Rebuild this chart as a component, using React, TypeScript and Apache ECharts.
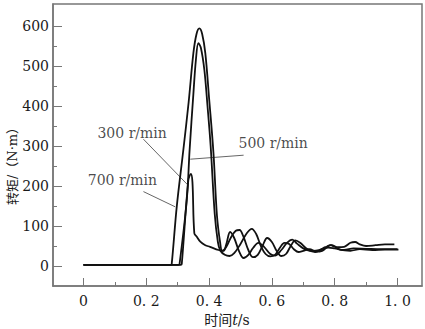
import React, { useEffect, useRef } from 'react';
import * as echarts from 'echarts';

const xMajorTicks = [0, 0.2, 0.4, 0.6, 0.8, 1.0];
const xMinorTicks = [0.1, 0.3, 0.5, 0.7, 0.9];
const yMajorTicks = [0, 100, 200, 300, 400, 500, 600];
const yMinorTicks = [50, 150, 250, 350, 450, 550];

// torque (N·m) vs time (s)
const curve700: number[][] = [
  [0, 3], [0.278, 3], [0.281, 5], [0.297, 148], [0.318, 290], [0.335, 410], [0.35, 532], [0.36, 580],
  [0.369, 594], [0.378, 580], [0.388, 532], [0.4, 420], [0.414, 282], [0.425, 127], [0.435, 60], [0.442, 38],
  [0.455, 48], [0.47, 72], [0.485, 88], [0.497, 90], [0.51, 72], [0.525, 40], [0.54, 22], [0.555, 28],
  [0.57, 50], [0.585, 70], [0.6, 60], [0.615, 38], [0.63, 25], [0.645, 30], [0.66, 50], [0.675, 64],
  [0.69, 58], [0.71, 44], [0.73, 38], [0.75, 40], [0.77, 47], [0.79, 52], [0.81, 47], [0.83, 48],
  [0.85, 58], [0.865, 60], [0.88, 54], [0.9, 50], [0.93, 52], [0.96, 54], [0.99, 54],
];
const curve500: number[][] = [
  [0, 3], [0.303, 3], [0.306, 5], [0.329, 165], [0.338, 290], [0.35, 430], [0.358, 515], [0.366, 557],
  [0.374, 545], [0.385, 490], [0.395, 400], [0.405, 300], [0.418, 130], [0.428, 60], [0.436, 38],
  [0.45, 28], [0.465, 25], [0.48, 32], [0.5, 55], [0.52, 82], [0.536, 93], [0.55, 80], [0.565, 50],
  [0.58, 30], [0.595, 24], [0.61, 28], [0.625, 45], [0.64, 58], [0.655, 55], [0.67, 42], [0.685, 35],
  [0.7, 38], [0.72, 42], [0.74, 36], [0.76, 38], [0.786, 52], [0.8, 48], [0.82, 40], [0.85, 38],
  [0.88, 42], [0.92, 40], [0.96, 41], [1.003, 41],
];
const curve300: number[][] = [
  [0, 3], [0.31, 3], [0.313, 5], [0.334, 215], [0.342, 230], [0.347, 210], [0.353, 82], [0.361, 73],
  [0.372, 61], [0.388, 52], [0.403, 48], [0.43, 40], [0.446, 38], [0.455, 55], [0.467, 85], [0.48, 70],
  [0.495, 38], [0.51, 20], [0.525, 28], [0.54, 45], [0.557, 58], [0.575, 48], [0.595, 30], [0.61, 26],
  [0.63, 40], [0.648, 58], [0.665, 66], [0.68, 56], [0.7, 44], [0.72, 38], [0.738, 35], [0.76, 42],
  [0.78, 46], [0.8, 44], [0.83, 40], [0.86, 44], [0.9, 43], [0.95, 42], [1.0, 42],
];

const annotationTexts = ['300 r/min', '500 r/min', '700 r/min'];
const annotationAt: number[][] = [[0.155, 332], [0.604, 307], [0.124, 215]];
const leaderLines: number[][][] = [
  [[0.191, 317], [0.333, 202]],
  [[0.51, 277], [0.34, 267]],
  [[0.191, 186], [0.292, 148]],
];

const FONT = "'DejaVu Serif', 'Noto Sans CJK SC', serif";

export default function App() {
  const ref = useRef<HTMLDivElement>(null);
  useEffect(() => {
    document.body.style.margin = '0';
    const chart = echarts.init(ref.current!, undefined, { renderer: 'svg' });
    const xMin = -0.097;
    const xMax = 1.078;
    const yMin = -50;
    const yMax = 655;
    const axisColor = '#777';
    const fmtX = (v: number) => (Math.abs(v) < 1e-9 ? '0' : v.toFixed(1).replace('.', '. '));
    const curveSeries = [curve300, curve500, curve700].map((d) => ({
      type: 'line',
      data: d,
      showSymbol: false,
      smooth: 0.35,
      lineStyle: { color: '#111', width: 1.8 },
      xAxisIndex: 0,
      yAxisIndex: 0,
      silent: true,
      z: 3,
    }));
    const leaderSeries = leaderLines.map((d) => ({
      type: 'line',
      data: d,
      showSymbol: false,
      lineStyle: { color: '#555', width: 0.9 },
      silent: true,
      z: 2,
    }));
    const labelSeries = {
      type: 'scatter',
      data: annotationAt.map((p, i) => ({ value: p, name: annotationTexts[i] })),
      symbolSize: 1,
      itemStyle: { color: 'rgba(0,0,0,0)' },
      label: {
        show: true,
        position: 'inside',
        formatter: (p: any) => p.name,
        color: '#1a1a1a',
        fontFamily: FONT,
        fontSize: 14,
      },
      silent: true,
      z: 4,
    };
    chart.setOption({
      animation: false,
      backgroundColor: '#fff',
      grid: {
        left: 53,
        right: 3,
        top: 4,
        bottom: 43,
        show: true,
        borderColor: axisColor,
        borderWidth: 1.5,
      },
      xAxis: [
        {
          type: 'value',
          min: xMin,
          max: xMax,
          position: 'bottom',
          splitLine: { show: false },
          axisLine: { show: true, onZero: false, lineStyle: { color: axisColor, width: 1.5 } },
          axisTick: { show: true, inside: true, length: 8, customValues: xMajorTicks, lineStyle: { color: axisColor } },
          axisLabel: {
            customValues: xMajorTicks,
            formatter: fmtX,
            color: '#1a1a1a',
            fontFamily: FONT,
            fontSize: 14,
            margin: 8,
          },
        },
        {
          type: 'value',
          min: xMin,
          max: xMax,
          position: 'bottom',
          splitLine: { show: false },
          axisLine: { show: false, onZero: false },
          axisTick: { show: true, inside: true, length: 4, customValues: xMinorTicks, lineStyle: { color: axisColor } },
          axisLabel: { show: false },
        },
      ],
      yAxis: [
        {
          type: 'value',
          min: yMin,
          max: yMax,
          position: 'left',
          splitLine: { show: false },
          axisLine: { show: true, onZero: false, lineStyle: { color: axisColor, width: 1.5 } },
          axisTick: { show: true, inside: true, length: 9, customValues: yMajorTicks, lineStyle: { color: axisColor } },
          axisLabel: {
            customValues: yMajorTicks,
            color: '#1a1a1a',
            fontFamily: FONT,
            fontSize: 14,
            margin: 4,
          },
        },
        {
          type: 'value',
          min: yMin,
          max: yMax,
          position: 'left',
          splitLine: { show: false },
          axisLine: { show: false, onZero: false },
          axisTick: { show: true, inside: true, length: 4, customValues: yMinorTicks, lineStyle: { color: axisColor } },
          axisLabel: { show: false },
        },
      ],
      graphic: [
        {
          type: 'text',
          x: 12,
          y: 163,
          rotation: Math.PI / 2,
          style: {
            text: '转矩/（N·m）',
            fontFamily: FONT,
            fontSize: 13,
            fill: '#1a1a1a',
            align: 'center',
            verticalAlign: 'middle',
          },
        },
        {
          type: 'text',
          x: 227,
          y: 320,
          style: {
            text: '时间{i|t}/s',
            fontFamily: FONT,
            fontSize: 14,
            fill: '#1a1a1a',
            align: 'center',
            verticalAlign: 'middle',
            rich: { i: { fontStyle: 'italic', fontFamily: FONT, fontSize: 14, fill: '#1a1a1a' } },
          },
        },
      ],
      series: [...curveSeries, ...leaderSeries, labelSeries],
    });
    return () => chart.dispose();
  }, []);
  return <div ref={ref} style={{ width: 425, height: 329 }} />;
}
